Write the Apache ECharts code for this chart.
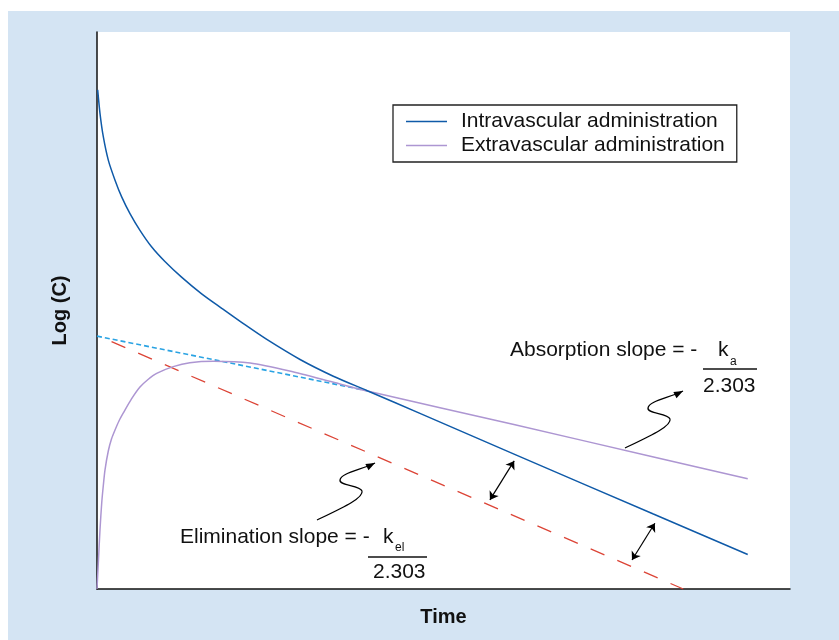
<!DOCTYPE html>
<html>
<head>
<meta charset="utf-8">
<script src="https://cdn.jsdelivr.net/npm/echarts@6/dist/echarts.min.js"></script>
<style>
  html, body { margin: 0; padding: 0; background: #fff; }
  #bg { position: absolute; left: 8px; top: 11px; width: 831px; height: 629px; background: #d4e4f3; }
  #chart { position: absolute; left: 0; top: 0; width: 839px; height: 640px; }
</style>
</head>
<body>
<div id="bg"></div>
<div id="chart"></div>
<script>
// Intravascular administration (time, log C)
const ivTime = [0.01, 0.043, 0.091, 0.163, 0.26, 0.356, 0.476, 0.62, 0.79, 0.98, 1.22, 1.51, 1.80, 2.14, 2.45, 2.93, 3.41, 3.90, 4.66, 6.06, 8.02, 9.39]
const ivLogC = [4.48, 4.27, 4.06, 3.85, 3.67, 3.52, 3.37, 3.22, 3.07, 2.94, 2.80, 2.65, 2.52, 2.37, 2.24, 2.06, 1.91, 1.78, 1.576, 1.20, 0.675, 0.31]

// Extravascular administration
const evTime = [0.00, 0.019, 0.043, 0.068, 0.091, 0.115, 0.163, 0.209, 0.26, 0.317, 0.38, 0.498, 0.62, 0.736, 0.861, 1.10, 1.34, 1.68, 2.21, 2.78, 3.40, 3.90, 6.00, 8.00, 9.39]
const evLogC = [0.00, 0.233, 0.53, 0.772, 0.929, 1.068, 1.239, 1.346, 1.427, 1.508, 1.58, 1.706, 1.813, 1.881, 1.936, 1.996, 2.031, 2.044, 2.029, 1.957, 1.858, 1.777, 1.478, 1.19, 0.99]

// back-extrapolated absorption line (dotted) and elimination line (dashed)
const absTime = [0.00, 3.90]
const absLogC = [2.27, 1.78]
const elimTime = [0.21, 8.46]
const elimLogC = [2.22, 0.00]

// double-headed arrows between elimination line and intravascular curve
const gapArrows = [
  [[5.67, 0.80], [6.02, 1.15]],
  [[7.72, 0.26], [8.05, 0.59]]
]

const zip = (xs, ys) => xs.map((x, i) => [x, ys[i]])

const FONT = 'Liberation Sans, Arial, Helvetica, sans-serif'

// S-shaped annotation arrow starting at (x, y)
const curl = (x, y) => {
  const p = [[0, 0], [25, -12], [47, -22], [45, -29], [43, -35], [22, -34], [23, -40], [24, -47], [44, -50], [58, -57]]
  const q = p.map(([a, b]) => [x + a, y + b])
  const seg = (i) => ({
    type: 'bezierCurve',
    shape: {
      x1: q[i][0], y1: q[i][1],
      cpx1: q[i + 1][0], cpy1: q[i + 1][1],
      cpx2: q[i + 2][0], cpy2: q[i + 2][1],
      x2: q[i + 3][0], y2: q[i + 3][1]
    },
    style: { fill: null, stroke: '#000', lineWidth: 1.3 }
  })
  const tip = q[9]
  const dx = tip[0] - q[8][0], dy = tip[1] - q[8][1]
  const len = Math.hypot(dx, dy)
  const ux = dx / len, uy = dy / len
  const bx = tip[0] - 9 * ux, by = tip[1] - 9 * uy
  return [
    seg(0), seg(3), seg(6),
    {
      type: 'polygon',
      shape: { points: [tip, [bx - 3.5 * uy, by + 3.5 * ux], [bx + 3.5 * uy, by - 3.5 * ux]] },
      style: { fill: '#000' }
    }
  ]
}

const txt = (x, y, text, size) => ({
  type: 'text',
  x: x,
  y: y,
  style: { text: text, font: size + 'px ' + FONT, fill: '#111', verticalAlign: 'middle', align: 'left' }
})

const rule = (x1, x2, y) => ({
  type: 'line',
  shape: { x1: x1, y1: y, x2: x2, y2: y },
  style: { stroke: '#111', lineWidth: 1.4 }
})

const chart = echarts.init(document.getElementById('chart'))

chart.setOption({
  animation: false,
  backgroundColor: 'transparent',
  grid: {
    left: 97,
    right: 49,
    top: 32,
    bottom: 51,
    show: true,
    backgroundColor: '#fff',
    borderWidth: 0
  },
  legend: {
    data: ['Intravascular administration', 'Extravascular administration'],
    orient: 'vertical',
    left: 393,
    top: 105,
    padding: [6, 12, 6, 13],
    itemGap: 3,
    icon: 'rect',
    itemWidth: 41,
    itemHeight: 1.6,
    backgroundColor: '#fff',
    borderColor: '#222',
    borderWidth: 1.3,
    borderRadius: 0,
    textStyle: { fontFamily: FONT, fontSize: 21, color: '#111', padding: [0, 0, 0, 9] }
  },
  xAxis: {
    type: 'value',
    min: 0,
    max: 10,
    name: 'Time',
    nameLocation: 'middle',
    nameGap: 18,
    nameTextStyle: { fontFamily: FONT, fontSize: 20, fontWeight: 'bold', color: '#111' },
    axisLine: { lineStyle: { color: '#111', width: 1.5 } },
    axisTick: { show: false },
    axisLabel: { show: false },
    splitLine: { show: false }
  },
  yAxis: {
    type: 'value',
    min: 0,
    max: 5,
    name: 'Log (C)',
    nameLocation: 'middle',
    nameGap: 27,
    nameRotate: 90,
    nameTextStyle: { fontFamily: FONT, fontSize: 20, fontWeight: 'bold', color: '#111' },
    axisLine: { show: true, lineStyle: { color: '#111', width: 1.5 } },
    axisTick: { show: false },
    axisLabel: { show: false },
    splitLine: { show: false }
  },
  series: [
    {
      name: 'Elimination extrapolation',
      type: 'line',
      data: zip(elimTime, elimLogC),
      symbol: 'none',
      lineStyle: { color: '#dc4436', width: 1.3, type: [15, 14] },
      z: 1
    },
    {
      name: 'Absorption extrapolation',
      type: 'line',
      data: zip(absTime, absLogC),
      symbol: 'none',
      lineStyle: { color: '#2aa3e3', width: 1.6, type: [5, 3] },
      z: 1
    },
    {
      name: 'Extravascular administration',
      type: 'line',
      data: zip(evTime, evLogC),
      symbol: 'none',
      smooth: 0.25,
      itemStyle: { color: '#ad96d2' },
      lineStyle: { color: '#ad96d2', width: 1.5 },
      z: 2
    },
    {
      name: 'Intravascular administration',
      type: 'line',
      data: zip(ivTime, ivLogC),
      symbol: 'none',
      smooth: 0.25,
      itemStyle: { color: '#0f5aa8' },
      lineStyle: { color: '#0f5aa8', width: 1.5 },
      z: 3
    },
    {
      name: 'Gap arrows',
      type: 'lines',
      coordinateSystem: 'cartesian2d',
      symbol: ['arrow', 'arrow'],
      symbolSize: 8,
      lineStyle: { color: '#000', width: 1.2, curveness: 0, opacity: 1 },
      data: gapArrows.map(c => ({ coords: c })),
      z: 4
    }
  ],
  graphic: [
    // absorption annotation
    txt(510, 350, 'Absorption slope = -', 21),
    txt(718, 350, 'k', 21),
    txt(730, 362, 'a', 12),
    rule(703, 757, 369),
    txt(703, 386, '2.303', 21),
    ...curl(625, 448),
    // elimination annotation
    txt(180, 537, 'Elimination slope = -', 21),
    txt(383, 537, 'k', 21),
    txt(395, 548, 'el', 12),
    rule(368, 427, 557),
    txt(373, 572, '2.303', 21),
    ...curl(317, 520)
  ]
})
</script>
</body>
</html>
